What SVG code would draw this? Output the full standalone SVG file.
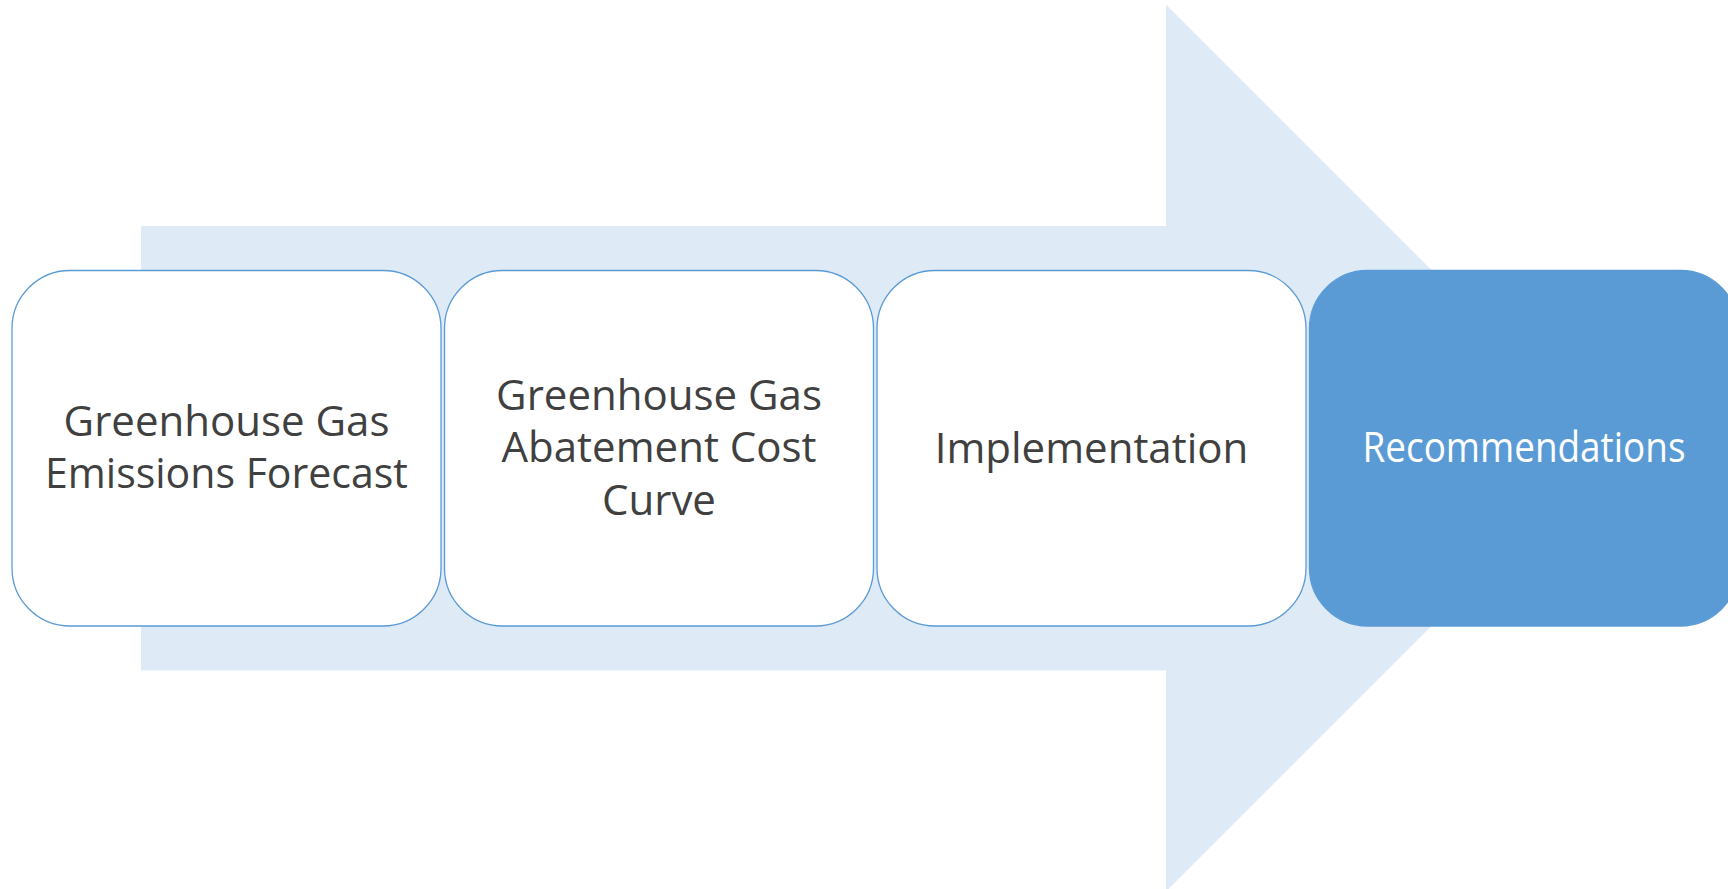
<svg xmlns="http://www.w3.org/2000/svg" width="1728" height="889" viewBox="0 0 1728 889">
<style>
.box{fill:#FFFFFF;stroke:#5B9BD5;stroke-width:1.3}
.box.hl{fill:#5B9BD5}
.lbl{font-family:"Open Sans","Liberation Sans",sans-serif;font-size:42px;fill:#404040;text-anchor:middle}
.lbl.w{fill:#FFFFFF}
</style>
<rect width="1728" height="889" fill="#FFFFFF"/>
<g id="connectors">
<polygon id="flow-arrow" points="141,226 1166,226 1166,4.5 1609.5,448 1166,891.5 1166,670.5 141,670.5" fill="#DEEBF7"/>
</g>
<g id="node-forecast">
<rect class="box" x="12" y="270.5" width="429" height="355.5" rx="58" ry="58"/>
<text class="lbl" x="226.5" y="436">Greenhouse Gas</text>
<text class="lbl" x="226.5" y="488" textLength="363" lengthAdjust="spacingAndGlyphs">Emissions Forecast</text>
</g>
<g id="node-cost-curve">
<rect class="box" x="444.5" y="270.5" width="429" height="355.5" rx="58" ry="58"/>
<text class="lbl" x="659" y="410">Greenhouse Gas</text>
<text class="lbl" x="659" y="462">Abatement Cost</text>
<text class="lbl" x="659" y="515">Curve</text>
</g>
<g id="node-implementation">
<rect class="box" x="877" y="270.5" width="429" height="355.5" rx="58" ry="58"/>
<text class="lbl" x="1091.5" y="463">Implementation</text>
</g>
<g id="node-recommendations">
<rect class="box hl" x="1309.5" y="270.5" width="429" height="355.5" rx="58" ry="58"/>
<text class="lbl w" x="1524" y="462" textLength="323" lengthAdjust="spacingAndGlyphs">Recommendations</text>
</g>
</svg>
